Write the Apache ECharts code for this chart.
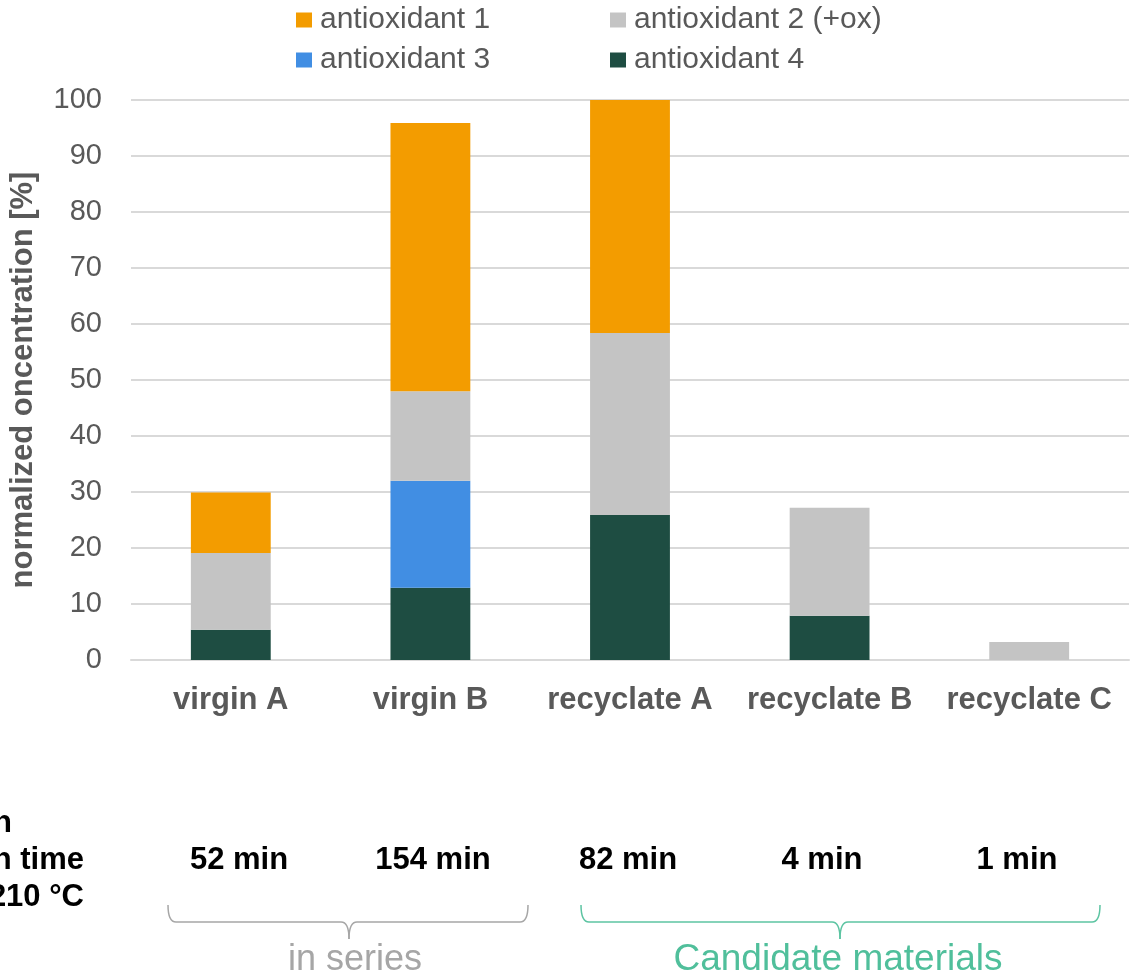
<!DOCTYPE html>
<html>
<head>
<meta charset="utf-8">
<script src="https://cdn.jsdelivr.net/npm/echarts@6/dist/echarts.min.js"></script>
<style>
  html, body { margin: 0; padding: 0; background: #fff; }
  #chart { width: 1131px; height: 980px; }
</style>
</head>
<body>
<div id="chart"></div>
<script>
// Samples and their normalized antioxidant contents (stacked, %)
const categories = ['virgin A', 'virgin B', 'recyclate A', 'recyclate B', 'recyclate C'];
const antioxidant4 = [5.4, 12.9, 25.9, 7.9, 0];
const antioxidant3 = [0, 19.1, 0, 0, 0];
const antioxidant2 = [13.7, 16.0, 32.5, 19.3, 3.2];
const antioxidant1 = [10.8, 47.9, 41.6, 0, 0];
// Oxidation induction time per sample
const oitLabels = ['52 min', '154 min', '82 min', '4 min', '1 min'];
const yTicks = { min: 0, max: 100, interval: 10 };

const FONT = '"Liberation Sans", Arial, sans-serif';
const GREY_TXT = '#595959';
const COLORS = {
  a1: '#F39C00',
  a2: '#C4C4C4',
  a3: '#418EE3',
  a4: '#1E4D42'
};

const chart = echarts.init(document.getElementById('chart'), null, { renderer: 'canvas' });

function legendAt(name, left, top) {
  return {
    data: [name],
    left: left,
    top: top,
    padding: 0,
    icon: 'rect',
    itemWidth: 16,
    itemHeight: 15,
    itemGap: 0,
    textStyle: { fontFamily: FONT, fontSize: 30, color: GREY_TXT, padding: [0, 0, 0, 3] },
    selectedMode: false
  };
}

function bar(name, data, color) {
  return {
    name: name,
    type: 'bar',
    stack: 'total',
    barWidth: '40%',
    data: data,
    itemStyle: { color: color },
    emphasis: { disabled: true }
  };
}

// curly brace opening downwards, built from quadratic curves and straight segments
function brace(x1, x2, xm, color) {
  const yTop = 905, yLine = 922, yTip = 939, r = 8;
  const st = { fill: null, stroke: color, lineWidth: 1.5 };
  const curve = (ax, ay, bx, by, cx, cy) => ({
    type: 'bezierCurve', silent: true,
    shape: { x1: ax, y1: ay, x2: bx, y2: by, cpx1: cx, cpy1: cy },
    style: st
  });
  const seg = (ax, ay, bx, by) => ({
    type: 'line', silent: true,
    shape: { x1: ax, y1: ay, x2: bx, y2: by },
    style: st
  });
  return [
    curve(x1, yTop, x1 + r, yLine, x1, yLine),
    seg(x1 + r, yLine, xm - r, yLine),
    curve(xm - r, yLine, xm, yTip, xm, yLine),
    curve(xm, yTip, xm + r, yLine, xm, yLine),
    seg(xm + r, yLine, x2 - r, yLine),
    curve(x2 - r, yLine, x2, yTop, x2, yLine)
  ];
}

const timeX = [239, 433, 628, 822, 1017];

const boldBlack = (text, x, y, align) => ({
  type: 'text', x: x, y: y, silent: true,
  style: { text: text, fontFamily: FONT, fontSize: 31, fontWeight: 'bold', fill: '#000', align: align, verticalAlign: 'middle' }
});

const graphics = [
  // row heading, partly outside the left edge
  boldBlack('Oxidation', 12, 823, 'right'),
  boldBlack('induction time', 84, 860, 'right'),
  boldBlack('at 210 °C', 84, 897, 'right'),
  ...brace(168, 528, 349, '#A6A6A6'),
  ...brace(581, 1100, 840, '#5CC4A2'),
  { type: 'text', x: 355, y: 960, silent: true, style: { text: 'in series', fontFamily: FONT, fontSize: 36, fill: '#A6A6A6', align: 'center', verticalAlign: 'middle' } },
  { type: 'text', x: 838, y: 960, silent: true, style: { text: 'Candidate materials', fontFamily: FONT, fontSize: 37, fill: '#50BF9B', align: 'center', verticalAlign: 'middle' } }
];
oitLabels.forEach((t, i) => graphics.push(boldBlack(t, timeX[i], 860, 'center')));

chart.setOption({
  animation: false,
  backgroundColor: '#fff',
  textStyle: { fontFamily: FONT },
  legend: [
    legendAt('antioxidant 1', 296, 5),
    legendAt('antioxidant 2 (+ox)', 610, 5),
    legendAt('antioxidant 3', 296, 45),
    legendAt('antioxidant 4', 610, 45)
  ],
  grid: { left: 129, right: 2, top: 100, bottom: 320, containLabel: false },
  xAxis: {
    type: 'category',
    data: categories,
    axisLine: { show: true, lineStyle: { color: '#D9D9D9', width: 2 } },
    axisTick: { show: false },
    axisLabel: { interval: 0, fontFamily: FONT, fontSize: 31, fontWeight: 'bold', color: GREY_TXT, margin: 25 }
  },
  yAxis: {
    type: 'value',
    min: yTicks.min,
    max: yTicks.max,
    interval: yTicks.interval,
    name: 'normalized oncentration [%]',
    nameLocation: 'middle',
    nameRotate: 90,
    nameGap: 92,
    nameTextStyle: { fontFamily: FONT, fontSize: 31, fontWeight: 'bold', color: GREY_TXT },
    axisLine: { show: false },
    axisTick: { show: false },
    axisLabel: { fontFamily: FONT, fontSize: 29, color: GREY_TXT, margin: 29 },
    splitLine: { lineStyle: { color: '#D9D9D9', width: 2 } }
  },
  series: [
    bar('antioxidant 4', antioxidant4, COLORS.a4),
    bar('antioxidant 3', antioxidant3, COLORS.a3),
    bar('antioxidant 2 (+ox)', antioxidant2, COLORS.a2),
    bar('antioxidant 1', antioxidant1, COLORS.a1)
  ],
  graphic: graphics
});
</script>
</body>
</html>
